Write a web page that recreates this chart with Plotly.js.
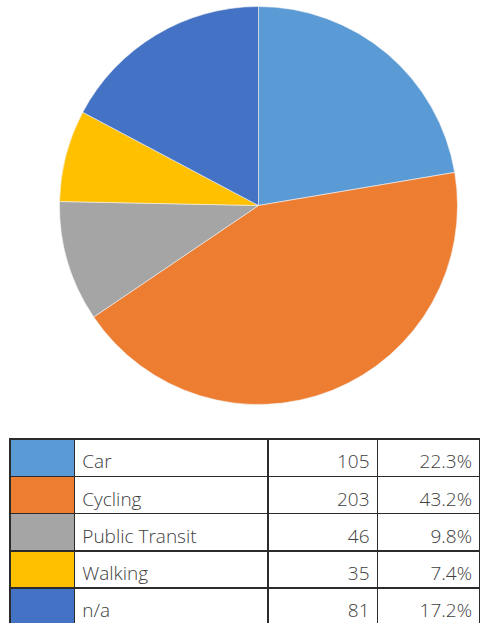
<!DOCTYPE html>
<html>
<head>
<meta charset="utf-8">
<script src="https://cdn.plot.ly/plotly-3.0.1.min.js"></script>
<style>
html,body{margin:0;padding:0;background:#fff;}
#chart{width:480px;height:624px;}
#chart .cell-text{transform:translateY(7px);}
</style>
</head>
<body>
<div id="chart"></div>
<script>
const categories = ['Car', 'Cycling', 'Public Transit', 'Walking', 'n/a'];
const counts = [105, 203, 46, 35, 81];
const percentLabels = ['22.3%', '43.2%', '9.8%', '7.4%', '17.2%'];
const colors = ['#5B9BD5', '#ED7D31', '#A5A5A5', '#FFC000', '#4472C4'];

const W = 480, H = 624;
const cx = 258.5, cy = 205.5, r = 199;

const pie = {
  type: 'pie',
  labels: categories,
  values: counts,
  sort: false,
  direction: 'clockwise',
  rotation: 0,
  textinfo: 'none',
  hoverinfo: 'label+value+percent',
  marker: { colors: colors, line: { color: '#f4f4f4', width: 0.6 } },
  domain: { x: [(cx - r) / W, (cx + r) / W], y: [1 - (cy + r) / H, 1 - (cy - r) / H] },
  showlegend: false
};

// The first data row is drawn as the table "header" so no empty header row appears.
const font = { family: '"Open Sans", Lato, sans-serif', size: 19, color: '#404040', weight: 300 };
const lineStyle = { color: '#2b2b2b', width: 1.5 };
const align = ['left', 'left', 'right', 'right'];
const rowH = 37.25;

const table = {
  type: 'table',
  domain: { x: [10 / W, 1], y: [0, 1 - 439 / H] },
  columnwidth: [64, 193, 109, 102],
  header: {
    values: [[''], [categories[0]], [counts[0]], [percentLabels[0]]],
    align: align,
    height: rowH,
    fill: { color: [colors[0], '#ffffff', '#ffffff', '#ffffff'] },
    line: lineStyle,
    font: font
  },
  cells: {
    values: [
      categories.slice(1).map(() => ''),
      categories.slice(1),
      counts.slice(1),
      percentLabels.slice(1)
    ],
    align: align,
    height: rowH,
    fill: { color: [colors.slice(1), '#ffffff', '#ffffff', '#ffffff'] },
    line: lineStyle,
    font: font
  }
};

Plotly.newPlot('chart', [pie, table], {
  width: W, height: H,
  margin: { l: 0, r: 0, t: 0, b: 0 },
  paper_bgcolor: '#ffffff',
  showlegend: false
}, { displayModeBar: false, staticPlot: true });
</script>
</body>
</html>
